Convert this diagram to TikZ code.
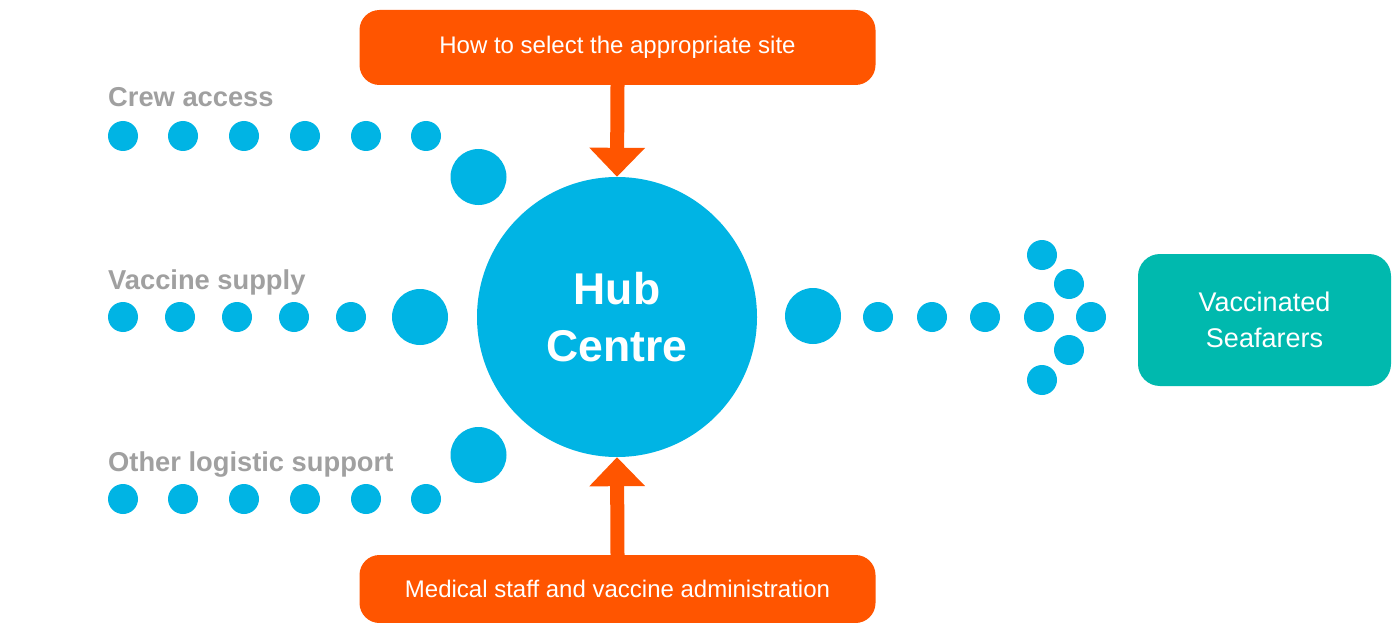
\documentclass[tikz,border=0pt]{standalone}
\usepackage{fontspec}
\setmainfont{Liberation Sans}
\usetikzlibrary{arrows.meta}
\definecolor{dotblue}{RGB}{0,180,228}
\definecolor{boxorange}{RGB}{255,85,0}
\definecolor{boxteal}{RGB}{0,185,174}
\definecolor{labelgrey}{RGB}{160,160,160}
\begin{document}
\begin{tikzpicture}[x=1pt,y=-1pt,
  dot/.style={circle,fill=dotblue,inner sep=0pt,minimum size=30pt},
  bigdot/.style={circle,fill=dotblue,inner sep=0pt,minimum size=56pt},
  hubnode/.style={circle,fill=dotblue,inner sep=0pt,minimum size=280pt,text=white,align=center,font=\bfseries\fontsize{44.5}{57}\selectfont},
  obox/.style={rectangle,rounded corners=20pt,fill=boxorange,text=white,minimum width=516pt,inner sep=0pt,font=\fontsize{24}{28}\selectfont},
  tbox/.style={rectangle,rounded corners=22pt,fill=boxteal,text=white,minimum width=253pt,minimum height=132pt,inner sep=0pt,align=center,font=\fontsize{27}{36}\selectfont},
  lbl/.style={anchor=base west,inner sep=0pt,text=labelgrey,font=\bfseries\fontsize{27.3}{30}\selectfont},
  oarrow/.style={draw=boxorange,line width=14pt,-{Triangle[width=54pt,length=29pt]}}
]
\useasboundingbox (0,0) rectangle (1392,623);
\fill[white] (0,0) rectangle (1392,623);

% hub
\node[hubnode] (hub) at (617,317) {Hub\\Centre};

% boxes
\node[obox,minimum height=75pt] (top) at (617.5,47.5) {How to select the appropriate site};
\node[obox,minimum height=68pt] (bot) at (617.5,589) {Medical staff and vaccine administration};
\node[tbox] (out) at (1264.5,320) {Vaccinated\\Seafarers};

% arrows
\draw[oarrow] (top.south) -- (hub.north);
\draw[oarrow] (bot.north) -- (hub.south);

% labels
\node[lbl] (lcrew) at (108,107) {Crew access};
\node[lbl] (lvac) at (108,289) {Vaccine supply};
\node[lbl] (loth) at (108,471) {Other logistic support};

% crew access row
\node[dot] (c1) at (123,136) {};
\node[dot] (c2) at (183,136) {};
\node[dot] (c3) at (244,136) {};
\node[dot] (c4) at (305,136) {};
\node[dot] (c5) at (366,136) {};
\node[dot] (c6) at (426,136) {};
\node[bigdot] (c7) at (478.5,177) {};

% vaccine supply row
\node[dot] (v1) at (123,317) {};
\node[dot] (v2) at (180,317) {};
\node[dot] (v3) at (237,317) {};
\node[dot] (v4) at (294,317) {};
\node[dot] (v5) at (351,317) {};
\node[bigdot] (v6) at (420,317) {};

% other logistic row
\node[dot] (o1) at (123,499) {};
\node[dot] (o2) at (183,499) {};
\node[dot] (o3) at (244,499) {};
\node[dot] (o4) at (305,499) {};
\node[dot] (o5) at (366,499) {};
\node[dot] (o6) at (426,499) {};
\node[bigdot] (o7) at (478.5,455) {};

% output row
\node[bigdot] (r1) at (813,316) {};
\node[dot] (r2) at (878,317) {};
\node[dot] (r3) at (932,317) {};
\node[dot] (r4) at (985,317) {};
\node[dot] (a1) at (1042,255) {};
\node[dot] (a2) at (1069,284) {};
\node[dot] (a3) at (1039,317) {};
\node[dot] (a4) at (1091,317) {};
\node[dot] (a5) at (1069,350) {};
\node[dot] (a6) at (1042,380) {};
\end{tikzpicture}
\end{document}
